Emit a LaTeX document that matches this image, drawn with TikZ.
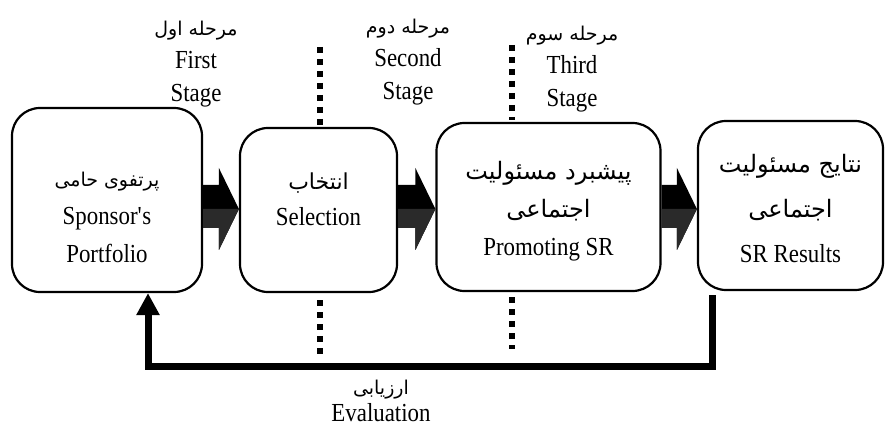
\documentclass[tikz,border=0pt]{standalone}
\usepackage{fontspec}
\setmainfont{Liberation Serif}[FakeStretch=0.88]
\newfontfamily\persianfont[Script=Arabic]{DejaVu Sans}
\TeXXeTstate=1
\usetikzlibrary{arrows.meta,calc}
\definecolor{arrowgray}{HTML}{2A2A2A}
\newcommand{\fa}[2][19]{{\persianfont\fontsize{#1}{#1}\selectfont\beginR #2\endR}}
\tikzset{
  stagebox/.style={draw, rounded corners=28pt, line width=2.2pt, inner sep=0pt},
  boxtext/.style={align=center, inner sep=0pt, font=\fontsize{26}{38}\selectfont},
  stagetext/.style={align=center, inner sep=0pt, font=\fontsize{26}{33}\selectfont},
  divider/.style={line width=6pt, dash pattern=on 6pt off 6pt},
  feedback/.style={line width=7pt, -{Triangle[width=22pt,length=22pt]}},
}
% fat arrow from one box to the next
\newcommand{\fatarrow}[2]{%
  \fill[black] (#1.east |- 0,185) -- ($(#2.west |- 0,185)+(-20,0)$) -- ($(#2.west |- 0,168)+(-20,0)$)
    -- (#2.west |- 0,209) -- ($(#2.west |- 0,250)+(-20,0)$) -- ($(#2.west |- 0,228)+(-20,0)$)
    -- (#1.east |- 0,228) -- cycle;
  \fill[arrowgray] (#1.east |- 0,209) -- (#2.west |- 0,209) -- ($(#2.west |- 0,250)+(-20,0)$)
    -- ($(#2.west |- 0,228)+(-20,0)$) -- (#1.east |- 0,228) -- cycle;
}
\begin{document}
\begin{tikzpicture}[x=1pt, y=-1pt]
  \useasboundingbox (0,0) rectangle (888,430);

  % boxes
  \node[stagebox, minimum width=190pt, minimum height=184pt] (b1) at (107,200) {};
  \node[stagebox, minimum width=157pt, minimum height=164pt] (b2) at (318.5,210) {};
  \node[stagebox, minimum width=224pt, minimum height=168pt] (b3) at (548.5,207) {};
  \node[stagebox, minimum width=185pt, minimum height=169pt] (b4) at (790.5,205.5) {};

  \node[boxtext] (t1) at (107,217) {\fa[19]{پرتفوی حامی}\\Sponsor\textquotesingle s\\Portfolio};
  \node[boxtext, font=\fontsize{26}{36}\selectfont] (t2) at (318.5,199) {\fa[22]{انتخاب}\\Selection};
  \node[boxtext] (t3) at (548.5,211) {\fa[24]{پیشبرد مسئولیت}\\\fa[24]{اجتماعی}\\Promoting SR};
  \node[boxtext, font=\fontsize{26}{45}\selectfont] (t4) at (790.5,209) {\fa[24]{نتایج مسئولیت}\\\fa[24]{اجتماعی}\\SR Results};

  % stage labels
  \node[stagetext] (s1) at (196,64) {\fa{مرحله اول}\\First\\Stage};
  \node[stagetext] (s2) at (408,62) {\fa{مرحله دوم}\\Second\\Stage};
  \node[stagetext] (s3) at (572,69) {\fa{مرحله سوم}\\Third\\Stage};

  % dividers
  \draw[divider] (320,47) -- (320,125);
  \draw[divider] (320,300) -- (320,355);
  \draw[divider] (512,45) -- (512,120);
  \draw[divider] (512,297) -- (512,349);

  \fatarrow{b1}{b2}
  \fatarrow{b2}{b3}
  \fatarrow{b3}{b4}

  % evaluation loop
  \draw[feedback] (b4.south -| 712,0) ++(0,4) -- (712,366) -- (148,366) -- (b1.south -| 148,0);
  \node[align=center, inner sep=0pt, font=\fontsize{26}{27}\selectfont] (ev) at (381,401) {\fa{ارزیابی}\\Evaluation};
\end{tikzpicture}
\end{document}
